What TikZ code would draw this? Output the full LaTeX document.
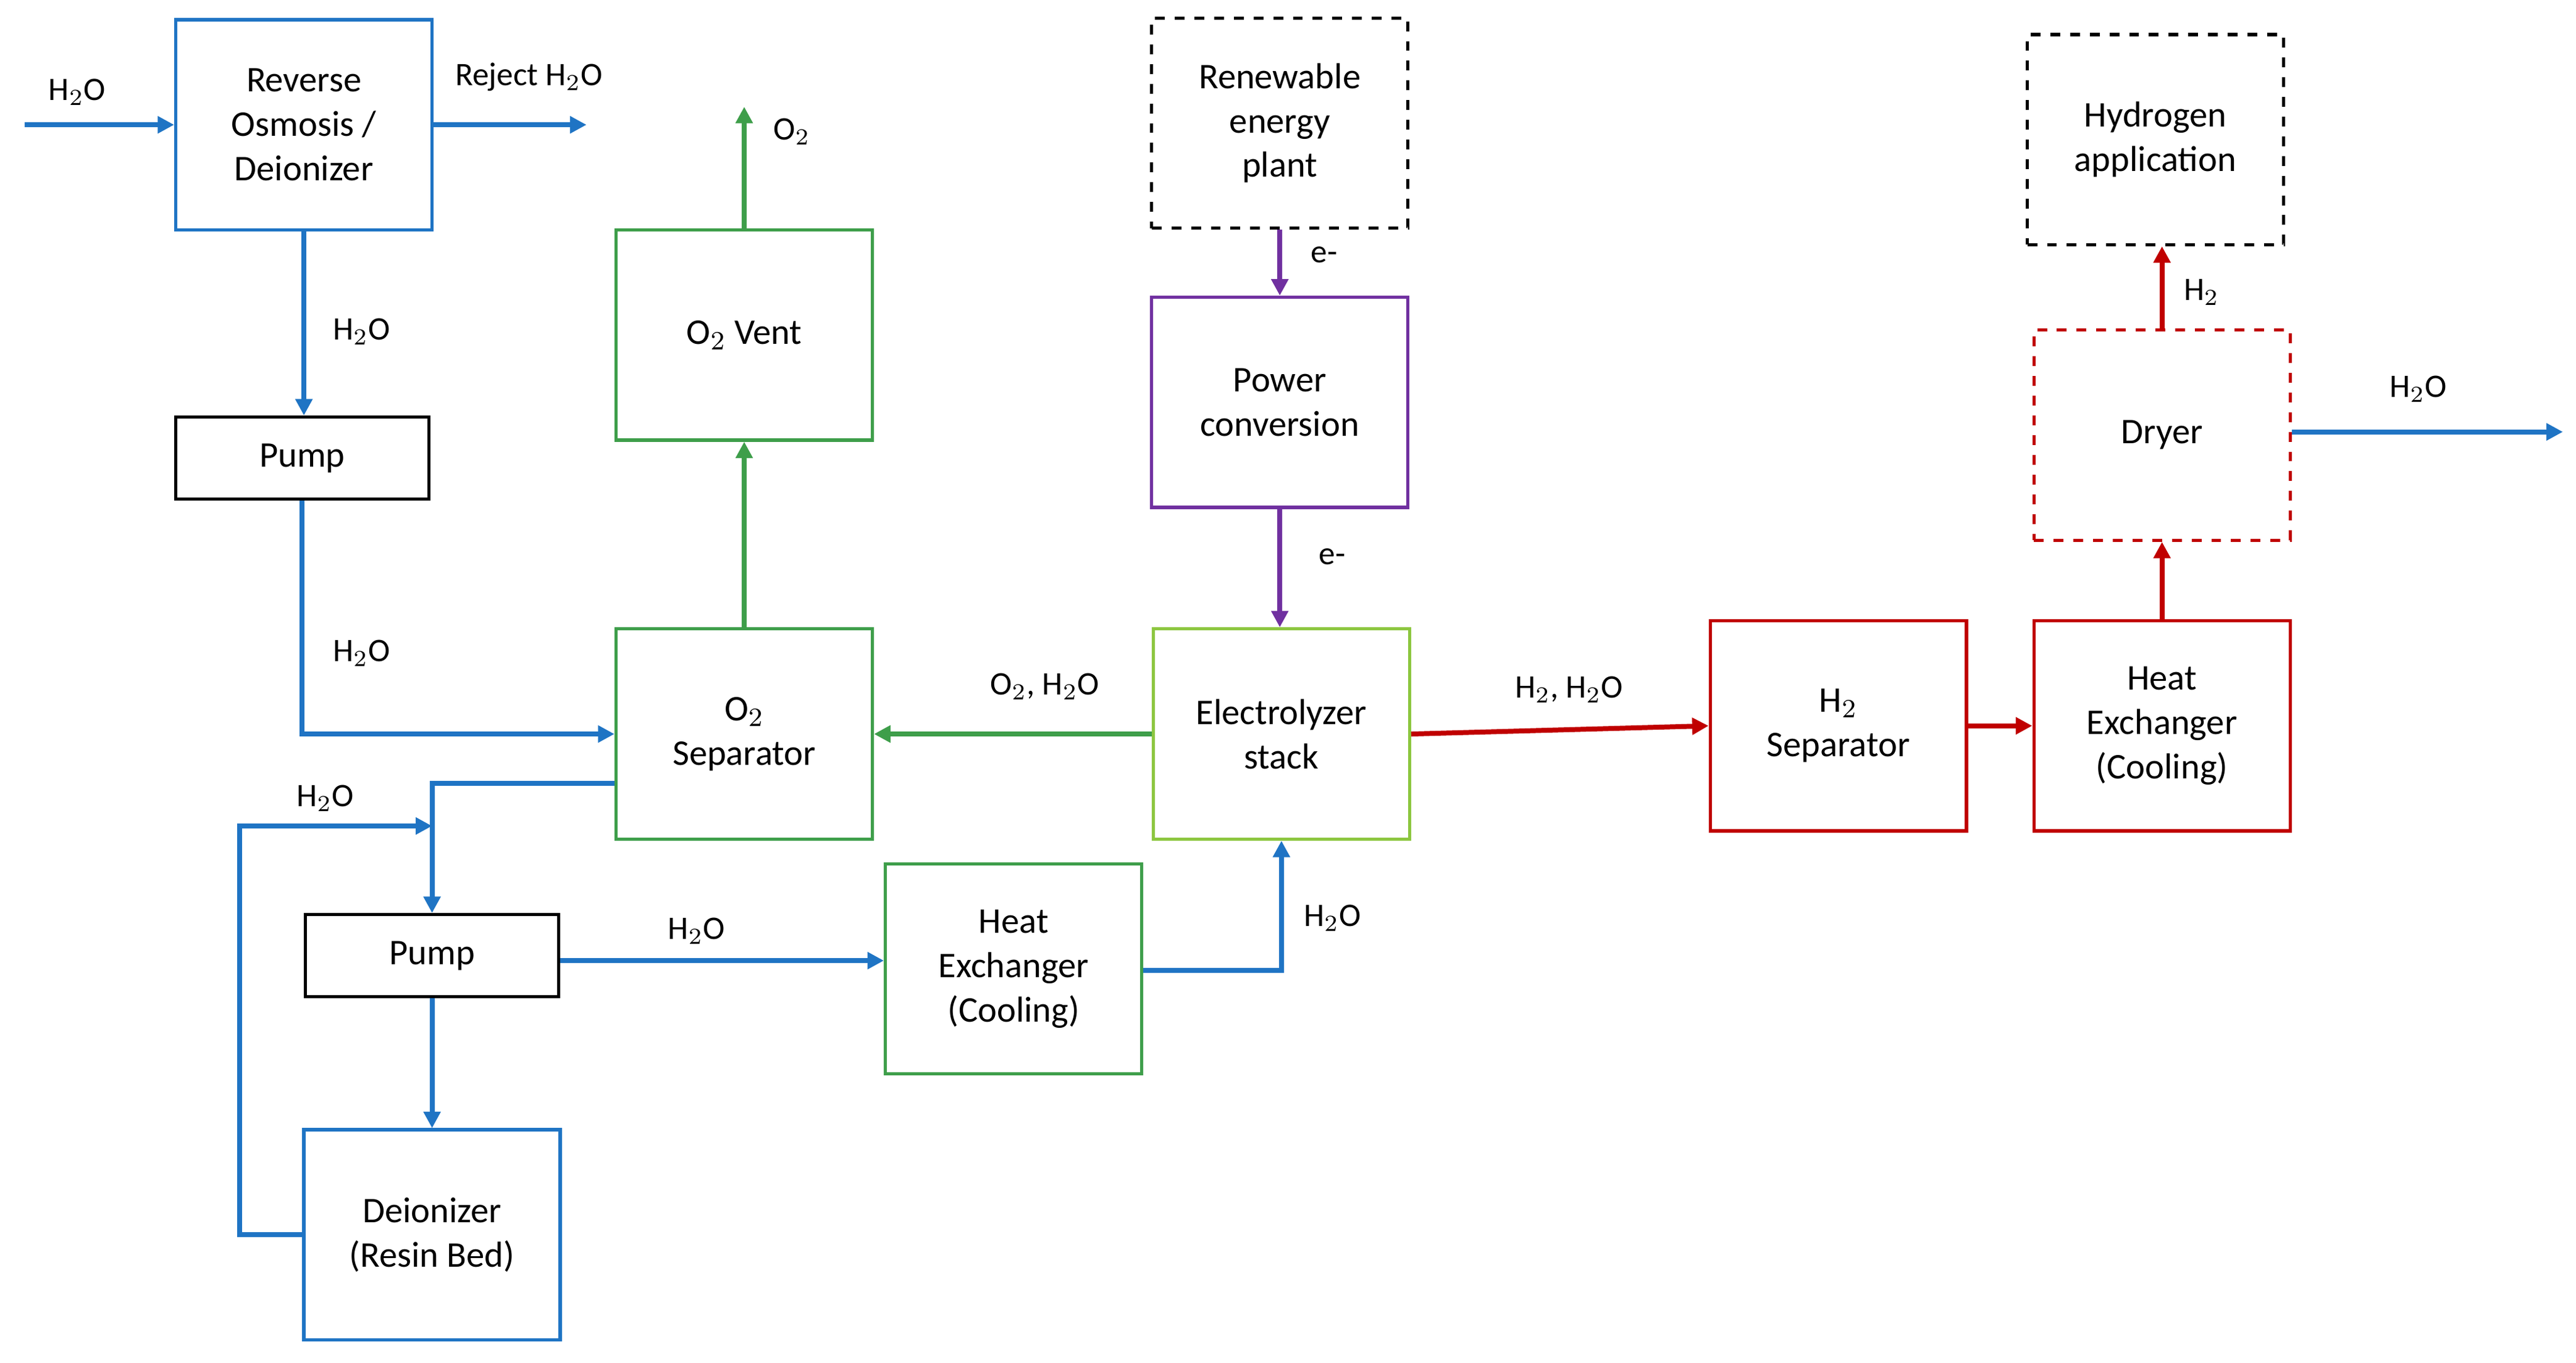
\documentclass[tikz,border=0pt]{standalone}
\usepackage{fontspec}
\setmainfont{Carlito}
\usetikzlibrary{arrows.meta}
\definecolor{cb}{HTML}{1F74C4}
\definecolor{cg}{HTML}{3E9E4A}
\definecolor{clg}{HTML}{8CC63F}
\definecolor{cp}{HTML}{7030A0}
\definecolor{cr}{HTML}{C00000}
\begin{document}
\begin{tikzpicture}[x=0.5pt,y=-0.5pt,
  box/.style={draw,line width=1pt,minimum width=78pt,minimum height=64pt,align=center,font=\fontsize{11}{13.5}\selectfont,inner sep=1pt},
  sbox/.style={draw=black,line width=1pt,minimum width=77pt,minimum height=25pt,font=\fontsize{11}{13.5}\selectfont},
  ar/.style={line width=1.5pt,-{Triangle[length=5pt,width=5pt]}},
  lb/.style={font=\fontsize{10}{12}\selectfont}]
\useasboundingbox (0,0) rectangle (1568,830);
\node[box,draw=cb] (ro) at (185,76) {Reverse\\Osmosis /\\Deionizer};
\node[sbox] (p1) at (184,279) {Pump};
\node[box,draw=cg] (vent) at (453,204) {O$_2$ Vent};
\node[box,draw=cg] (sep) at (453,447) {O$_2$\\Separator};
\node[sbox] (p2) at (263,582) {Pump};
\node[box,draw=cb] (di) at (263,752) {Deionizer\\(Resin Bed)};
\node[box,draw=cg] (hxg) at (617,590) {Heat\\Exchanger\\(Cooling)};
\node[box,dashed] (ren) at (779,75) {Renewable\\energy\\plant};
\node[box,draw=cp] (pc) at (779,245) {Power\\conversion};
\node[box,draw=clg] (el) at (780,447) {Electrolyzer\\stack};
\node[box,draw=cr] (hs) at (1119,442) {H$_2$\\Separator};
\node[box,draw=cr] (hxr) at (1316,442) {Heat\\Exchanger\\(Cooling)};
\node[box,draw=cr,dashed] (dry) at (1316,265) {Dryer};
\node[box,dashed] (app) at (1312,85) {Hydrogen\\application};
\coordinate (in) at (15,76);
\coordinate (rej) at (357,76);
\coordinate (o2out) at (453,65);
\coordinate (wout) at (1560,263);
% blue
\draw[ar,cb] (in) -- (ro.west);
\node[lb] at (47,56) {H$_2$O};
\draw[ar,cb] (ro.east) -- (rej);
\node[lb] at (322,47) {Reject H$_2$O};
\draw[ar,cb] (ro.south) -- (ro.south|-p1.north);
\node[lb] at (220,202) {H$_2$O};
\draw[ar,cb] (p1.south) |- (sep.west);
\node[lb] at (220,398) {H$_2$O};
\draw[ar,cb] (sep.west|-0,477) -| (p2.north);
\node[lb] at (198,486) {H$_2$O};
\draw[ar,cb] (p2.south) -- (di.north);
\draw[ar,cb] (di.west) -| (146,503) -- (263,503);
\draw[ar,cb] (p2.east|-0,585) -- (hxg.west|-0,585);
\node[lb] at (424,567) {H$_2$O};
\draw[ar,cb] (hxg.east|-0,591) -| (el.south);
\node[lb] at (811,559) {H$_2$O};
\draw[ar,cb] (dry.east|-0,263) -- (wout);
\node[lb] at (1472,237) {H$_2$O};
% green
\draw[ar,cg] (sep.north) -- (vent.south);
\draw[ar,cg] (vent.north) -- (o2out);
\node[lb] at (482,80) {O$_2$};
\draw[ar,cg] (el.west) -- (sep.east);
\node[lb] at (636,418) {O$_2$, H$_2$O};
% purple
\draw[ar,cp] (ren.south) -- (pc.north);
\node[lb] at (806,155) {e-};
\draw[ar,cp] (pc.south) -- (pc.south|-el.north);
\node[lb] at (811,339) {e-};
% red
\draw[ar,cr] (el.east) -- (hs.west);
\node[lb] at (955,420) {H$_2$, H$_2$O};
\draw[ar,cr] (hs.east) -- (hxr.west);
\draw[ar,cr] (hxr.north) -- (dry.south);
\draw[ar,cr] (dry.north) -- (dry.north|-app.south);
\node[lb] at (1340,178) {H$_2$};
\end{tikzpicture}
\end{document}
